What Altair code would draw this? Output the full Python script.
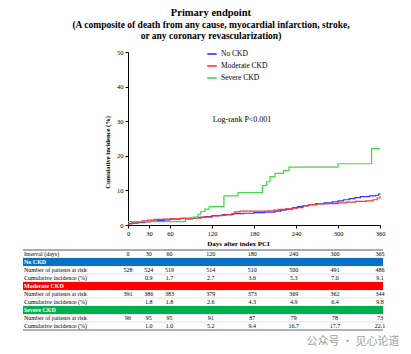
import altair as alt
import pandas as pd

FONT = "Liberation Serif"

# ---------------- data ----------------
groups = ["No CKD", "Moderate CKD", "Severe CKD"]
line_colors = ["#3434ff", "#ff3535", "#3fdc3f"]
band_colors = ["#0a70c2", "#ff0000", "#00b04f"]

title_main = "Primary endpoint"
title_sub = ["(A composite of death from any cause, myocardial infarction, stroke,",
             "or any coronary revascularization)"]
logrank_label = ["Log-rank P<0.001"]
watermark = ["公众号 · 见心论道"]

x_ticks = [0, 30, 60, 120, 180, 240, 300, 360]
y_ticks = [0, 10, 20, 30, 40, 50]

no_ckd_days = [0, 6, 14, 24, 32, 42, 52, 60, 75, 95, 110, 120, 135, 150, 165, 180, 195, 210,
               218, 226, 235, 242, 250, 258, 268, 280, 292, 300, 308, 316, 324, 332, 345, 354, 358, 360]
no_ckd_vals = [0.4, 0.5, 0.7, 0.9, 1.1, 1.3, 1.5, 1.7, 1.9, 2.2, 2.4, 2.7, 3.0, 3.3, 3.4, 3.6, 3.7, 4.0,
               4.3, 4.6, 5.0, 5.3, 5.5, 5.9, 6.2, 6.4, 6.7, 7.0, 7.3, 7.6, 7.9, 8.2, 8.4, 8.6, 8.9, 9.1]

mod_days = [0, 5, 12, 20, 28, 38, 50, 60, 75, 90, 105, 120, 130, 140, 148, 152, 160, 180, 200, 208,
            215, 225, 235, 242, 250, 258, 270, 285, 300, 312, 325, 340, 350, 356, 360]
mod_vals = [0.3, 0.6, 0.9, 1.2, 1.4, 1.6, 1.7, 1.8, 1.9, 2.0, 2.3, 2.6, 2.8, 3.0, 3.3, 3.8, 4.0, 4.0, 4.1, 4.3,
            4.5, 4.7, 4.9, 5.0, 5.6, 5.9, 6.1, 6.2, 6.4, 6.6, 6.8, 7.0, 7.3, 7.8, 8.3]

severe_days = [0, 82, 92, 100, 104, 110, 116, 137, 157, 192, 198, 203, 210, 222, 230, 300, 348, 360]
severe_vals = [1.0, 1.6, 2.2, 3.1, 3.9, 4.6, 5.3, 8.4, 9.4, 11.4, 12.5, 14.0, 14.9, 15.7, 16.7, 17.7, 22.1, 22.1]

# risk table
intervals = [0, 30, 60, 120, 180, 240, 300, 365]
no_ckd_risk = [528, 524, 519, 514, 510, 500, 491, 486]
no_ckd_cum = [None, 0.9, 1.7, 2.7, 3.6, 5.3, 7.0, 9.1]
mod_risk = [391, 386, 383, 379, 373, 369, 362, 344]
mod_cum = [None, 1.8, 1.8, 2.6, 4.3, 4.9, 6.4, 9.8]
severe_risk = [96, 95, 95, 91, 87, 79, 78, 73]
severe_cum = [None, 1.0, 1.0, 5.2, 9.4, 16.7, 17.7, 22.1]

row_labels = ["Interval (days)",
              "No CKD", "Number of patients at risk", "Cumulative incidence (%)",
              "Moderate CKD", "Number of patients at risk", "Cumulative incidence (%)",
              "Severe CKD", "Number of patients at risk", "Cumulative incidence (%)"]
band_rows = [1, 4, 7]

# ---------------- build tables ----------------
curves = pd.concat([
    pd.DataFrame({"day": no_ckd_days, "pct": no_ckd_vals, "group": groups[0]}),
    pd.DataFrame({"day": mod_days, "pct": mod_vals, "group": groups[1]}),
    pd.DataFrame({"day": severe_days, "pct": severe_vals, "group": groups[2]}),
], ignore_index=True)

rows_df = pd.DataFrame({"row": list(range(len(row_labels))), "label": row_labels})
rows_df["band"] = rows_df["row"].isin(band_rows)
bands_df = pd.DataFrame({"row": band_rows, "group": groups})
label_df = rows_df[~rows_df["band"]]
bandlabel_df = rows_df[rows_df["band"]]

cells = []
for d in intervals:
    cells.append({"row": 0, "day": d, "txt": str(d)})
for base, risk, cum in [(2, no_ckd_risk, no_ckd_cum), (5, mod_risk, mod_cum), (8, severe_risk, severe_cum)]:
    for d, r, c in zip(intervals, risk, cum):
        cells.append({"row": base, "day": d, "txt": str(r)})
        if c is not None:
            cells.append({"row": base + 1, "day": d, "txt": f"{c:.1f}"})
cells_df = pd.DataFrame(cells)

# ---------------- KM plot ----------------
xenc = alt.X("day:Q", scale=alt.Scale(domain=[0, 360], nice=False),
             axis=alt.Axis(values=x_ticks, title="Days after index PCI", labelFontSize=6.5,
                           titleFontSize=7, titleFontWeight="bold", tickSize=3, labelPadding=2,
                           titlePadding=3, labelFlush=False, titleX=110, titleAlign="center"))
yenc = alt.Y("pct:Q", scale=alt.Scale(domain=[0, 50], nice=False),
             axis=alt.Axis(values=y_ticks, title="Cumulative incidence (%)", labelFontSize=6.5,
                           titleFontSize=6.5, titleFontWeight="bold", tickSize=3, labelPadding=2,
                           titlePadding=6, titleY=100, titleAlign="center"))

lines = alt.Chart(curves).mark_line(interpolate="step-after", strokeWidth=1.2).encode(
    x=xenc, y=yenc,
    color=alt.Color("group:N", sort=groups,
                    scale=alt.Scale(domain=groups, range=line_colors),
                    legend=alt.Legend(title=None, orient="none", legendX=78, legendY=-4,
                                      symbolType="stroke", symbolSize=90, symbolStrokeWidth=1.6,
                                      labelFont=FONT, labelFontSize=7.5, labelColor="black",
                                      rowPadding=2, labelOffset=3)),
)

logrank = alt.Chart(pd.DataFrame({"t": logrank_label})).mark_text(
    font=FONT, fontSize=8, color="black").encode(
    x=alt.value(114), y=alt.value(68), text="t:N")

top = alt.layer(lines, logrank).properties(width=252, height=173)

# ---------------- risk table ----------------
row_scale = alt.Scale(domain=list(range(len(row_labels))), paddingInner=0, paddingOuter=0)
yrow = alt.Y("row:O", scale=row_scale, axis=None)
xcol = alt.X("day:Q", scale=alt.Scale(domain=[0, 365], nice=False), axis=None)

row_lines = alt.Chart(rows_df).mark_rule(color="#c9c9c9", strokeWidth=0.6).encode(
    x=alt.value(-105), x2=alt.value(255), y=alt.Y("row:O", bandPosition=0, scale=row_scale, axis=None))
bands = alt.Chart(bands_df).mark_rect().encode(
    x=alt.value(-105), x2=alt.value(255), y=yrow,
    color=alt.Color("group:N", scale=alt.Scale(domain=groups, range=band_colors), legend=None))
edge_df = rows_df[rows_df["row"].isin([0])]
top_edge = alt.Chart(edge_df).mark_rule(color="#5a6a80", strokeWidth=1).encode(
    x=alt.value(-105), x2=alt.value(255), y=alt.Y("row:O", bandPosition=0, scale=row_scale, axis=None))
last_df = rows_df[rows_df["row"].isin([len(row_labels) - 1])]
bottom_edge = alt.Chart(last_df).mark_rule(color="#666666", strokeWidth=1).encode(
    x=alt.value(-105), x2=alt.value(255), y=alt.Y("row:O", bandPosition=1, scale=row_scale, axis=None))
labels = alt.Chart(label_df).mark_text(font=FONT, fontSize=6, align="left", baseline="middle",
                                       color="black").encode(
    x=alt.value(-104), y=yrow, text="label:N")
band_labels = alt.Chart(bandlabel_df).mark_text(font=FONT, fontSize=6, fontWeight="bold", align="left",
                                                baseline="middle", color="white").encode(
    x=alt.value(-104), y=yrow, text="label:N")
nums = alt.Chart(cells_df).mark_text(font=FONT, fontSize=6, align="center", baseline="middle",
                                     color="black").encode(
    x=xcol, y=yrow, text="txt:N")
wm = alt.Chart(pd.DataFrame({"t": watermark})).mark_text(
    font="Noto Sans CJK SC", fontSize=11, color="#a0a0a0", align="center").encode(
    x=alt.value(225), y=alt.value(92), text="t:N")

table = alt.layer(row_lines, bands, top_edge, bottom_edge, labels, band_labels, nums, wm).properties(
    width=252, height=80)

chart = alt.vconcat(top, table, spacing=2).resolve_scale(
    x="independent", y="independent", color="independent"
).properties(
    title=alt.TitleParams(text=title_main, subtitle=title_sub, font=FONT, subtitleFont=FONT,
                          fontSize=10.5, subtitleFontSize=9.5, fontWeight="bold",
                          subtitleFontWeight="bold", color="black", subtitleColor="black",
                          anchor="middle", subtitlePadding=1, subtitleLineHeight=11, offset=8),
    padding={"left": 22, "top": 8, "right": 4, "bottom": 4},
    background="white",
).configure_view(stroke=None).configure_axis(
    labelFont=FONT, titleFont=FONT, labelColor="black", titleColor="black",
    domainColor="black", tickColor="black", grid=False)

chart.save("out.html", embed_options={"renderer": "svg", "actions": False})
